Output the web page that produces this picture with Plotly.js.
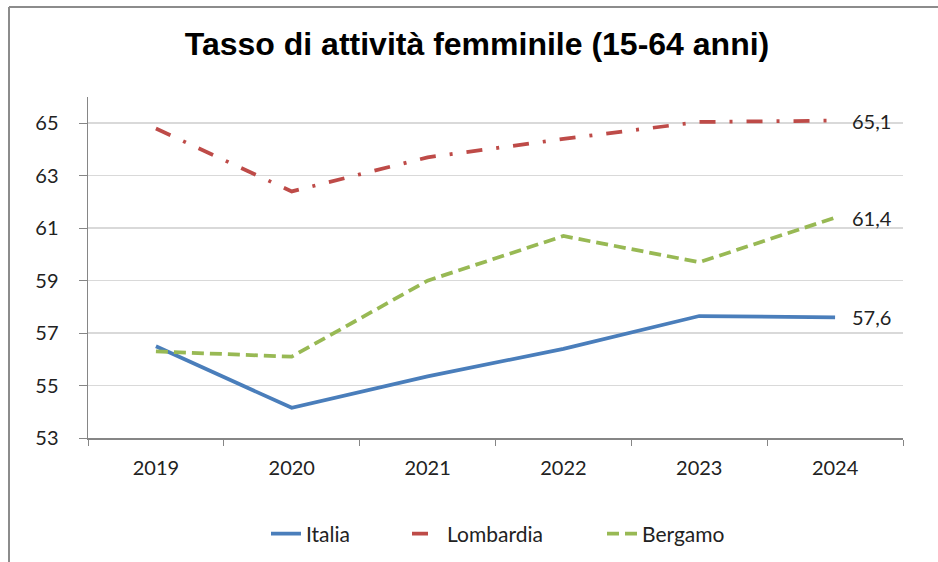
<!DOCTYPE html>
<html>
<head>
<meta charset="utf-8">
<script src="https://cdn.plot.ly/plotly-3.0.1.min.js"></script>
<style>
  html, body { margin: 0; padding: 0; background: #ffffff; }
  #chart { width: 938px; height: 562px; }
</style>
</head>
<body>
<div id="chart"></div>
<script>
const years = ["2019", "2020", "2021", "2022", "2023", "2024"];
const italia = [56.5, 54.15, 55.35, 56.4, 57.65, 57.6];
const lombardia = [64.8, 62.4, 63.7, 64.4, 65.05, 65.1];
const bergamo = [56.3, 56.1, 59.0, 60.7, 59.7, 61.4];
const yTicks = [53, 55, 57, 59, 61, 63, 65];
const lastLabels = ["57,6", "65,1", "61,4"];

const mkFont = (s) => ({ family: "Lato, 'Open Sans', sans-serif", size: s || 20, color: "#222222" });

const traces = [
  { x: years, y: italia, name: "Italia", type: "scatter", mode: "lines", legend: "legend",
    line: { color: "#4A7EBB", width: 3.75 } },
  { x: years, y: lombardia, name: "Lombardia", type: "scatter", mode: "lines", legend: "legend2",
    line: { color: "#BE4B48", width: 3.75, dash: "16px,14px,3px,14px" } },
  { x: years, y: bergamo, name: "Bergamo", type: "scatter", mode: "lines", legend: "legend3",
    line: { color: "#98B954", width: 3.75, dash: "12px,6px" } }
];

const lastIdx = years.length - 1;
const lastVals = [italia[lastIdx], lombardia[lastIdx], bergamo[lastIdx]];
const annotations = lastVals.map((v, i) => ({
  x: lastIdx, y: v, xref: "x", yref: "y", text: lastLabels[i],
  showarrow: false, xanchor: "left", yanchor: "middle", xshift: 15,
  font: mkFont()
}));

const L = 88, R = 35, T = 97, B = 124;
const pw = 938 - L - R, ph = 562 - T - B;
const px = xp => (xp - L) / pw;
const py = yp => 1 + (T - yp) / ph;

const mkLegend = left => ({ orientation: "h", xref: "paper", x: px(left), xanchor: "left",
  y: py(534), yanchor: "middle", font: mkFont(21), bgcolor: "rgba(0,0,0,0)", borderwidth: 0 });

const layout = {
  width: 938, height: 562,
  margin: { l: L, r: R, t: T, b: B, autoexpand: false },
  paper_bgcolor: "#ffffff", plot_bgcolor: "#ffffff",
  title: { text: "<b>Tasso di attività femminile (15-64 anni)</b>",
    font: { family: "'Liberation Sans', Arial, sans-serif", size: 32, color: "#000000" },
    xref: "container", x: 477 / 938, xanchor: "center",
    yref: "container", y: 1 - 44 / 562, yanchor: "middle" },
  xaxis: { type: "category", range: [-0.5, 5.5], showgrid: false,
    showline: true, linecolor: "#868686", linewidth: 1.5,
    ticks: "outside", tickson: "boundaries", ticklen: 6, tickcolor: "#868686",
    ticklabelstandoff: 11,
    tickfont: mkFont(), fixedrange: true },
  yaxis: { range: [53, 66], tickvals: yTicks, ticktext: yTicks.map(String),
    showgrid: true, gridcolor: "#D9D9D9", gridwidth: 1.5,
    showline: true, linecolor: "#868686", linewidth: 1.5,
    ticks: "outside", ticklen: 8, tickcolor: "#868686",
    ticklabelstandoff: 16,
    tickfont: mkFont(), zeroline: false, fixedrange: true },
  showlegend: true,
  legend: mkLegend(266),
  legend2: mkLegend(407),
  legend3: mkLegend(602),
  annotations: annotations,
  shapes: [
    { type: "line", xref: "paper", yref: "paper", x0: px(9), x1: px(9), y0: py(600), y1: py(7),
      line: { color: "#8C8C8C", width: 2 } },
    { type: "line", xref: "paper", yref: "paper", x0: px(9), x1: px(960), y0: py(7), y1: py(7),
      line: { color: "#8C8C8C", width: 2 } }
  ]
};

Plotly.newPlot("chart", traces, layout, { displayModeBar: false, staticPlot: true });
</script>
</body>
</html>
